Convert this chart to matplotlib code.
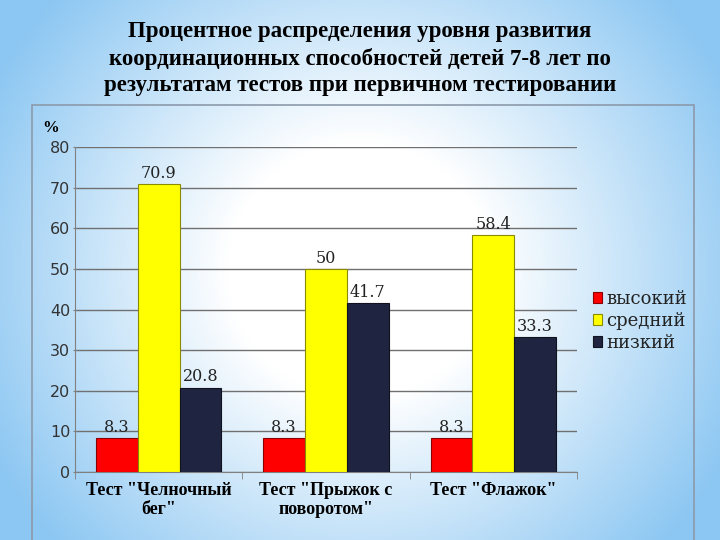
import numpy as np
import matplotlib.pyplot as plt
from matplotlib.patches import Rectangle

categories = ['Тест "Челночный\nбег"', 'Тест "Прыжок с\nповоротом"', 'Тест "Флажок"']
series = ['высокий', 'средний', 'низкий']
vysokiy = [8.3, 8.3, 8.3]
sredniy = [70.9, 50, 58.4]
nizkiy = [20.8, 41.7, 33.3]
labels_vys = ['8.3', '8.3', '8.3']
labels_sred = ['70.9', '50', '58.4']
labels_niz = ['20.8', '41.7', '33.3']
colors = ['#ff0000', '#ffff00', '#1f2440']
edges = ['#8b0000', '#8b8b00', '#10121f']

plt.rcParams['font.family'] = ['Liberation Serif', 'DejaVu Serif']

fig = plt.figure(figsize=(7.2, 5.4), dpi=100)

# background gradient
bg = fig.add_axes([0, 0, 1, 1], zorder=-10)
yy, xx = np.mgrid[-1:1:270j, -1:1:360j]
r = np.sqrt((xx / 1.05) ** 2 + (yy / 1.35) ** 2)
t = np.clip((r - 0.35) / 0.75, 0, 1)
white = np.array([1.0, 1.0, 1.0])
blue = np.array([0.55, 0.78, 0.95])
img = white[None, None, :] * (1 - t[..., None]) + blue[None, None, :] * t[..., None]
bg.imshow(img, aspect='auto', extent=[0, 1, 0, 1])
bg.set_xlim(0, 1)
bg.set_ylim(0, 1)
bg.axis('off')

# chart frame
fig.patches.append(Rectangle((32 / 720, -0.01), (694 - 32) / 720, 1 - 105 / 540 + 0.01,
                             transform=fig.transFigure, fill=False,
                             edgecolor='#8c9aab', linewidth=1.2))

fig.text(0.5, 0.962, 'Процентное распределения уровня развития\n'
         'координационных способностей детей 7-8 лет по\n'
         'результатам тестов при первичном тестировании',
         ha='center', va='top', fontsize=16.5, fontweight='bold', linespacing=1.36)

ax = fig.add_axes([75 / 720, 1 - 472 / 540, (577 - 75) / 720, (472 - 147) / 540])
ax.patch.set_alpha(0)

x = np.arange(len(categories))
w = 0.25
data = [vysokiy, sredniy, nizkiy]
labs = [labels_vys, labels_sred, labels_niz]
for i, (vals, lab) in enumerate(zip(data, labs)):
    pos = x + (i - 1) * w
    bars = ax.bar(pos, vals, w, color=colors[i], edgecolor=edges[i], linewidth=0.8,
                  label=series[i], zorder=3)
    for b, v, s in zip(bars, vals, lab):
        ax.text(b.get_x() + b.get_width() / 2, v + 0.5, s, ha='center', va='bottom',
                fontsize=11.5, family='DejaVu Serif', color='#222222', zorder=4)

ax.set_xlim(-0.5, 2.5)
ax.set_ylim(0, 80)
ax.set_yticks(range(0, 81, 10))
ax.tick_params(axis='y', labelsize=11.5, length=3, direction='inout', color='#808080',
               pad=2, labelcolor='#333333')
for lbl in ax.get_yticklabels():
    lbl.set_family('DejaVu Sans')
ax.yaxis.grid(True, color='#707070', linewidth=1)
ax.set_axisbelow(True)
ax.set_xticks(x)
ax.set_xticklabels(categories, fontsize=13, fontweight='bold')
ax.tick_params(axis='x', length=0, pad=7)
ax.set_xticks([-0.5, 0.5, 1.5, 2.5], minor=True)
ax.tick_params(axis='x', which='minor', length=5, color='#808080')
for s in ['top', 'right']:
    ax.spines[s].set_visible(False)
for s in ['left', 'bottom']:
    ax.spines[s].set_color('#808080')

fig.text(42 / 720, 1 - 128 / 540, '%', fontsize=12, fontweight='bold', va='center')

leg = ax.legend(loc='center left', bbox_to_anchor=(1.0, 0.465), frameon=False,
                handlelength=0.5, handleheight=0.5, handletextpad=0.2,
                labelspacing=0.22, prop={'family': 'DejaVu Serif', 'size': 13})
for txt in leg.get_texts():
    txt.set_color('#222222')

fig.savefig('out.png', dpi=100)
